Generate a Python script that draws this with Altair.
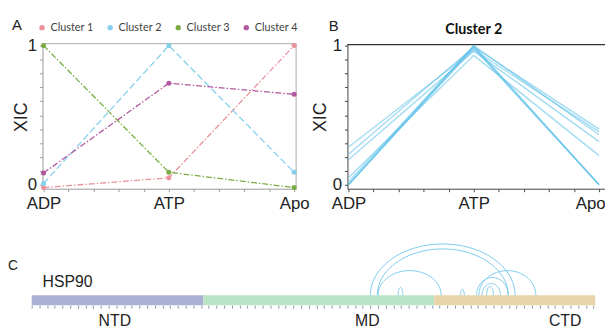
import altair as alt
import numpy as np
import pandas as pd

# ---------------- data ----------------
states = ["ADP", "ATP", "Apo"]
clusters = ["Cluster 1", "Cluster 2", "Cluster 3", "Cluster 4"]
cluster_colors = ["#e8939b", "#86d0ee", "#7aab45", "#b2589f"]
cluster_dashes = [[6, 2, 1.5, 2], [7, 3], [6, 2, 1.5, 2], [6, 2, 1.5, 2]]
cluster1 = [-0.02, 0.05, 1.00]
cluster2 = [0.01, 1.00, 0.09]
cluster3 = [1.00, 0.09, -0.02]
cluster4 = [0.085, 0.73, 0.65]

# panel B: individual cluster-2 profiles
b_adp = [0.27, 0.22, 0.18, 0.05, 0.02, 0.00, 0.00, 0.00]
b_atp = [0.97, 0.99, 0.96, 0.93, 1.00, 1.00, 0.98, 0.99]
b_apo = [0.38, 0.40, 0.31, 0.21, 0.36, 0.00, 0.00, 0.00]

# panel C: HSP90 domains (residues) and cross-links
domains = ["NTD", "MD", "CTD"]
domain_start = [0, 223, 523]
domain_end = [223, 523, 732]
domain_colors = ["#aab0d4", "#b9e4c5", "#e9d3a9"]
domain_label_at = [108, 436, 693]
residue_ticks = list(range(0, 733, 10))

link_from = [440, 449, 450, 581, 578, 585, 591, 476, 557]
link_to = [628, 619, 532, 655, 619, 609, 600, 482, 562]
link_height = [52, 47, 25, 25, 18, 12, 9, 8, 6]

# ---------------- tables ----------------
series = [cluster1, cluster2, cluster3, cluster4]
dfA = pd.DataFrame(
    [{"cluster": c, "pos": i, "xic": v} for c, vals in zip(clusters, series) for i, v in enumerate(vals)]
)
dfB = pd.DataFrame(
    [{"p": k, "pos": i, "xic": v}
     for k, vals in enumerate(zip(b_adp, b_atp, b_apo)) for i, v in enumerate(vals)]
)
dfDom = pd.DataFrame({"domain": domains, "start": domain_start, "end": domain_end,
                      "mid": domain_label_at})
t = np.linspace(0, np.pi, 60)
arc_rows = []
for i, (s, e, h) in enumerate(zip(link_from, link_to, link_height)):
    c, a = (s + e) / 2, (e - s) / 2
    for k, tt in enumerate(t):
        arc_rows.append({"link": i, "k": k, "res": c - a * np.cos(tt), "h": h * np.sin(tt)})
dfArc = pd.DataFrame(arc_rows)
one = pd.DataFrame({"k": [0]})

H = 320
AXFONT = "Liberation Sans"
tick_y = [0, 0.1, 0.2, 0.3, 0.4, 0.5, 0.6, 0.7, 0.8, 0.9, 1]
tick_x = [0, 0.2, 0.4, 0.6, 0.8, 1, 1.2, 1.4, 1.6, 1.8, 2]
xlab = "datum.value == 0 ? 'ADP' : (datum.value == 1 ? 'ATP' : (datum.value == 2 ? 'Apo' : ''))"
ylab = "datum.value == 0 ? '0' : (datum.value == 1 ? '1' : '')"


def x_axis(offset, color, last_shift=0):
    return alt.Axis(orient="bottom", offset=offset, values=tick_x, labelExpr=xlab, title=None,
                    tickSize=3, tickColor=color, domainColor=color, labelFont=AXFONT,
                    labelFontSize=17, labelColor="#222", labelPadding=4, labelFlush=False,
                    labelOverlap=False, grid=False,
                    labelOffset={"condition": {"test": "datum.value == 2", "value": last_shift},
                                 "value": 0})


def y_axis(offset, color, title_x):
    return alt.Axis(orient="left", offset=offset, values=tick_y, labelExpr=ylab, title="XIC",
                    tickSize=3, tickColor=color, domainColor=color, labelFont=AXFONT,
                    labelFontSize=17, labelColor="#222", labelPadding=3, labelOverlap=False,
                    titleFont=AXFONT, titleFontSize=18, titleFontWeight="normal",
                    titleColor="#222", titleX=title_x, titleY=108, titleBaseline="middle",
                    grid=False)


# ---------------- panel A ----------------
sxA = alt.Scale(domain=[-0.008, 2.016], range=[35, 292], nice=False, zero=False)
syA = alt.Scale(domain=[-0.028, 1.014], range=[181, 34], nice=False, zero=False)

a_lines = alt.Chart(dfA).mark_line(strokeWidth=1.3).encode(
    x=alt.X("pos:Q", scale=sxA, axis=x_axis(181 - H, "#999")),
    y=alt.Y("xic:Q", scale=syA, axis=y_axis(-35, "#999", -21)),
    color=alt.Color("cluster:N", scale=alt.Scale(domain=clusters, range=cluster_colors), legend=None),
    strokeDash=alt.StrokeDash("cluster:N", scale=alt.Scale(domain=clusters, range=cluster_dashes),
                              legend=None),
)
a_points = alt.Chart(dfA).mark_point(filled=True, size=26, opacity=1).encode(
    x=alt.X("pos:Q", scale=sxA, axis=None),
    y=alt.Y("xic:Q", scale=syA, axis=None),
    color=alt.Color("cluster:N", scale=alt.Scale(domain=clusters, range=cluster_colors),
                    legend=alt.Legend(
                        orient="none", legendX=29, legendY=12, direction="horizontal", title=None,
                        symbolType="circle", symbolSize=30, labelFont="Lato", labelFontSize=11,
                        labelColor="#444", columnPadding=11, labelOffset=3, padding=0,
                        symbolStrokeWidth=0)),
)
a_top = alt.Chart(one).mark_rule(color="#aaa", strokeWidth=1).encode(
    x=alt.X(datum=-0.008, scale=sxA, axis=None), x2=alt.X2(datum=2.016),
    y=alt.Y(datum=1.014, scale=syA, axis=None))
a_right = alt.Chart(one).mark_rule(color="#aaa", strokeWidth=1).encode(
    x=alt.X(datum=2.016, scale=sxA, axis=None),
    y=alt.Y(datum=-0.028, scale=syA, axis=None), y2=alt.Y2(datum=1.014))

# ---------------- panel B ----------------
sxB = alt.Scale(domain=[-0.008, 2.1], range=[344, 611.7], nice=False, zero=False)
syB = alt.Scale(domain=[-0.028, 1.014], range=[181, 34], nice=False, zero=False)
b_lines = alt.Chart(dfB).mark_line(strokeWidth=1.4, color="#55bde8", opacity=0.55).encode(
    x=alt.X("pos:Q", scale=sxB, axis=x_axis(181 - H, "#444", last_shift=-9)),
    y=alt.Y("xic:Q", scale=syB, axis=y_axis(-344, "#444", -27)),
    detail="p:N",
)
b_top = alt.Chart(one).mark_rule(color="#333", strokeWidth=1.2).encode(
    x=alt.X(datum=-0.008, scale=sxB, axis=None), x2=alt.X2(datum=2.1),
    y=alt.Y(datum=1.007, scale=syB, axis=None))
b_title = alt.Chart(one).mark_text(text="Cluster 2", font="Lato", fontWeight="bold",
                                    fontSize=14.5, color="#111").encode(
    x=alt.X(datum=1, scale=sxB, axis=None), y=alt.value(20))

# ---------------- panel C ----------------
sxC = alt.Scale(domain=[0, 732], range=[24, 595], nice=False, zero=False)
syC = alt.Scale(domain=[-10, 60], range=[299, 229], nice=False, zero=False)
c_bar = alt.Chart(dfDom).mark_rect().encode(
    x=alt.X("start:Q", scale=sxC,
            axis=alt.Axis(orient="bottom", offset=299 - H, values=residue_ticks, labels=False,
                          domain=False, tickSize=3, tickColor="#8a93a8", title=None, grid=False)),
    x2="end:Q",
    y=alt.Y(datum=-10, scale=syC, axis=None), y2=alt.Y2(datum=0),
    color=alt.Color("domain:N", scale=alt.Scale(domain=domains, range=domain_colors), legend=None),
)
c_labels = alt.Chart(dfDom).mark_text(font=AXFONT, fontSize=16, color="#222").encode(
    x=alt.X("mid:Q", scale=sxC, axis=None), y=alt.value(315), text="domain:N")
c_arcs = alt.Chart(dfArc).mark_line(strokeWidth=1, color="#6cc5ea", opacity=0.9).encode(
    x=alt.X("res:Q", scale=sxC, axis=None),
    y=alt.Y("h:Q", scale=syC, axis=None),
    detail="link:N", order="k:Q",
)


# ---------------- annotations ----------------
def label(txt, x, y, size, align="center", weight="normal"):
    return alt.Chart(one).mark_text(text=txt, font=AXFONT, fontSize=size, color="#222",
                                    align=align, fontWeight=weight).encode(
        x=alt.value(x), y=alt.value(y))


ann = [label("A", 9, 15, 15), label("B", 330, 16, 15), label("C", 5, 259, 14),
       label("HSP90", 35, 276, 16, align="left")]

chart = alt.layer(
    a_top, a_right, a_lines, a_points, b_top, b_lines, b_title, c_bar, c_arcs, c_labels, *ann
).resolve_scale(
    x="independent", y="independent", color="independent", strokeDash="independent"
).resolve_axis(x="independent", y="independent").properties(
    width=605, height=H, autosize=alt.AutoSizeParams(type="none"), padding=0,
    background="white"
).configure_view(stroke=None)

chart.save("out.html", embed_options={"renderer": "svg", "actions": False})
